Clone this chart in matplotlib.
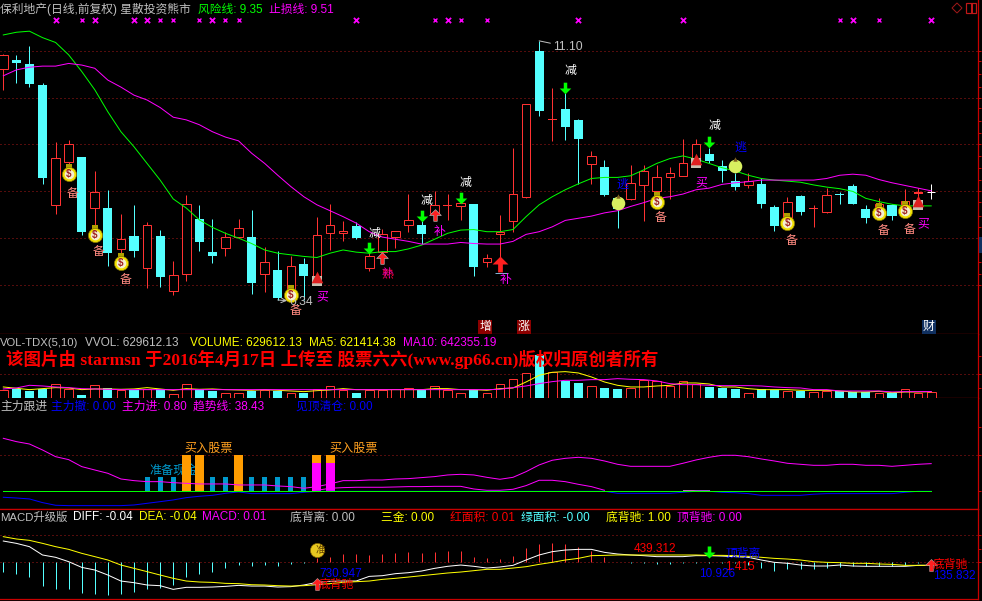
import matplotlib
matplotlib.use("Agg")
import matplotlib.pyplot as plt
from matplotlib.path import Path
from matplotlib.patches import Rectangle, Polygon
import numpy as np

plt.rcParams['font.family'] = ['Liberation Sans', 'Noto Sans CJK SC', 'DejaVu Sans']

# ---------- price series ----------
opens = [10.57,10.74,10.67,10.28,8.04,8.85,8.94,8.00,7.99,7.22,7.47,6.87,7.47,6.45,6.76,7.79,7.17,7.24,7.46,7.45,6.76,6.84,6.47,6.95,6.71,7.53,7.52,7.66,6.88,7.18,7.46,7.68,7.68,7.89,8.02,8.02,8.07,6.99,7.50,7.74,8.20,10.91,9.62,9.83,9.63,8.80,8.75,8.17,8.15,8.41,8.31,8.56,8.59,8.93,9.00,8.77,8.49,8.41,8.44,8.01,7.77,8.21,7.97,7.92,8.25,8.40,7.97,7.92,8.05,7.99,8.26,8.29]
closes = [10.83,10.68,10.30,8.54,8.93,9.19,7.55,8.28,7.16,7.41,7.20,7.67,6.71,6.74,8.06,7.35,7.10,7.45,7.61,6.60,6.98,6.32,6.91,6.73,7.48,7.67,7.56,7.43,7.10,7.50,7.56,7.76,7.51,8.04,8.03,8.08,6.90,7.07,7.54,8.26,9.92,9.80,9.64,9.50,9.28,8.95,8.24,7.97,8.45,8.67,8.56,8.64,8.82,9.19,8.87,8.68,8.38,8.49,8.07,7.66,8.10,7.92,7.99,8.23,8.23,8.07,7.81,8.06,7.84,8.12,8.28,8.29]
highs = [10.86,10.83,11.00,10.31,9.22,9.26,8.94,8.68,8.33,7.88,8.05,7.73,7.58,7.01,8.23,8.05,7.79,7.54,7.79,7.95,7.26,7.19,7.10,7.06,7.82,8.07,7.75,7.73,7.21,7.60,7.56,8.25,7.83,8.30,8.26,8.23,8.07,7.14,7.86,9.10,9.92,11.10,10.22,10.31,9.65,9.05,8.88,8.20,8.79,8.79,8.79,8.75,9.27,9.27,9.10,8.88,8.65,8.65,8.54,8.05,8.20,8.23,8.05,8.37,8.28,8.44,8.05,8.18,8.07,8.34,8.36,8.44]
lows = [10.19,10.32,10.24,8.44,7.87,8.73,7.48,7.52,6.92,7.02,7.08,6.51,6.53,6.38,6.64,7.20,6.96,7.09,7.43,6.40,6.42,6.28,6.34,6.28,6.59,7.21,7.37,7.41,6.81,6.99,7.25,7.55,7.32,7.77,7.77,7.76,6.73,6.90,6.96,7.55,8.17,9.71,9.24,9.26,8.43,8.44,8.22,7.62,8.14,7.74,8.20,8.16,8.59,8.76,8.82,8.47,8.33,8.36,7.99,7.56,7.71,7.86,7.64,7.90,8.07,8.07,7.71,7.89,7.77,7.89,8.08,8.16]
risk_line = [11.21,11.26,11.28,11.16,11.07,10.84,10.53,10.19,9.78,9.41,9.13,8.82,8.51,8.16,7.99,7.77,7.63,7.52,7.43,7.33,7.21,7.15,7.12,7.09,7.07,7.15,7.21,7.17,7.15,7.18,7.18,7.23,7.30,7.41,7.52,7.58,7.59,7.55,7.55,7.59,7.83,8.05,8.20,8.33,8.44,8.54,8.56,8.56,8.59,8.70,8.82,8.91,8.96,8.90,8.82,8.74,8.68,8.60,8.54,8.51,8.49,8.47,8.42,8.38,8.35,8.30,8.17,8.11,8.06,8.03,8.03,8.03]
stop_line = [10.45,10.56,10.61,10.63,10.63,10.68,10.65,10.59,10.37,10.24,10.09,10.00,9.86,9.68,9.63,9.54,9.41,9.31,9.24,9.01,8.82,8.60,8.39,8.20,8.05,7.94,7.83,7.71,7.55,7.45,7.41,7.37,7.32,7.32,7.32,7.35,7.33,7.32,7.32,7.37,7.50,7.55,7.64,7.76,7.80,7.84,7.90,7.94,8.02,8.09,8.17,8.20,8.25,8.33,8.36,8.43,8.46,8.48,8.51,8.51,8.51,8.51,8.51,8.54,8.60,8.62,8.60,8.52,8.46,8.41,8.36,8.31]
price_grid = [10.92,10.04,9.18,8.30,7.43,6.55]
price_ticks = [10.92,10.73,10.48,10.25,10.04,9.85,9.60,9.38,9.18,8.96,8.73,8.51,8.30,8.10,7.85,7.63,7.43,6.98,6.76,6.55]

# signals: candle index and price level
x_big = [4,7,10,11,16,27,34,44,52,65,71]
x_small = [6,12,13,15,17,18,33,35,37,64,67]
x_level = 11.48
bag_i = [5,7,9,22,50,60,67,69]
bag_p = [8.62,7.48,6.96,6.37,8.11,7.72,7.89,7.94]
bei_p = [8.25,7.18,6.65,6.08,7.80,7.38,7.56,7.59]
apple_i = [47,56]
apple_p = [8.09,8.78]
house_i = [24,53,70]
house_p = [6.66,8.85,8.08]
buy_i = [24.4,53.4,70.4]
buy_p = [6.33,8.45,7.69]
cut_i = [28,32,35,43,54]
cut_p = [7.50,8.12,8.46,10.54,9.52]
dn_i = [28,32,35,43,54]
dn_p = [7.24,7.84,8.17,10.23,9.21]
up_i = [29,33,38]
up_p = [7.07,7.86,6.95]
add_i = [33,38]
add_p = [7.55,6.65]
mix_i = [29]
mix_p = [6.76]
esc_i = [47.4,56.4]
esc_p = [8.42,9.11]

# ---------- volume series (thousands) ----------
volume = [756,850,662,913,1386,913,283,1291,1008,756,819,913,882,441,1386,850,693,535,535,693,756,662,535,504,913,1197,756,535,756,756,913,1008,756,1197,756,535,756,535,1386,1858,2425,4126,2520,1638,1417,1197,945,850,1008,1764,1638,1134,1669,1386,1039,945,850,535,913,787,724,693,598,724,693,630,598,535,504,913,535,630]
vol_ma5 = [1071,945,819,913,1008,976,819,882,882,850,882,1008,882,756,913,850,882,819,787,756,819,756,693,630,724,787,913,819,819,819,819,819,819,913,913,819,819,756,913,976,1543,2173,2457,2520,2394,2016,1543,1228,1071,1071,1165,1228,1449,1449,1354,1071,1071,913,819,819,819,756,756,756,693,598,598,661,535,598,598,621]
vol_ma10 = [882,976,1228,1165,1071,1008,913,882,850,819,819,819,819,819,819,819,819,819,819,819,819,819,819,819,819,819,819,819,819,819,819,819,819,819,819,819,819,819,850,1008,1165,1386,1575,1701,1701,1764,1764,1858,1795,1764,1638,1386,1291,1291,1228,1197,1197,1197,1165,1071,1008,976,819,819,693,693,693,693,598,630,630,642]
vol_grid = [2331]

# ---------- trend panel ----------
trend = [73.6,69.0,65.7,57.4,48.1,44.0,34.3,29.6,25.0,17.1,14.8,13.4,13.4,12.0,11.1,10.2,10.2,10.2,8.8,8.8,8.8,7.4,6.5,4.2,6.5,10.2,14.8,14.8,15.7,15.7,17.1,17.6,19.0,20.4,22.7,23.6,22.7,19.4,16.7,19.4,27.3,36.6,43.1,45.8,47.2,45.8,42.1,37.5,34.7,34.7,34.7,34.7,38.9,43.5,47.2,50,50,48.1,44.9,42.1,38.9,37.5,36.1,36.1,37.5,37.5,36.1,36.1,34.7,36.1,37.5,38.43]
main_in_i = [24,25,26,27,28,29,30,31,32,33,34,35,36,37,38,39,40,41,42,43,44,45,46]
main_in = [1.4,4.2,5.1,5.6,5.6,5.6,6.0,6.5,6.5,6.9,6.9,6.9,3.2,1.4,1.4,2.8,7.9,15.3,15.3,13.4,9.7,6.5,1.4]
main_in2_i = [52,53,54]
main_in2 = [1.4,1.4,1.4]
main_out = [-8.3,-9.3,-10.6,-15.7,-19.4,-19.9,-19.9,-19.9,-19.9,-19.9,-19.0,-16.7,-14.4,-12.0,-8.8,-6.9,-5.6,-2.8,-0.9,-3.2,-3.2,-3.2,-3.2,-1.4,0,0,0,0,0,0,0,0,0,0,0,0,0,0,0,0,0,0,0,0,0,0,0,-2.8,-2.8,-2.8,-2.8,-2.8,-1.4,0,0,-1.4,-2.0,-3.2,-5.6,-5.6,-5.6,-5.6,-4.0,-3.2,-3.2,-3.2,-3.2,-3.2,-3.2,-1.4,0,0]
zero_line = [0.0]*72
cash_i = [11,12,13,16,17,19,20,21,22,23]
cash_v = [20]*10
buy_bar_i = [14,15,18,24,25]
buy_bar_v = [50]*5
main_bar_i = [24,25]
main_bar_v = [40]*2
trend_grid = [50]

# ---------- MACD panel ----------
diff = [0.284,0.253,0.209,0.098,0.067,0.009,-0.067,-0.102,-0.169,-0.249,-0.271,-0.302,-0.311,-0.36,-0.333,-0.333,-0.329,-0.32,-0.307,-0.316,-0.316,-0.329,-0.324,-0.302,-0.267,-0.253,-0.249,-0.249,-0.187,-0.178,-0.151,-0.138,-0.116,-0.08,-0.053,-0.036,-0.053,-0.076,-0.062,-0.04,0.031,0.098,0.142,0.164,0.173,0.173,0.133,0.111,0.098,0.089,0.076,0.076,0.076,0.089,0.089,0.084,0.076,0.067,0.031,0,-0.013,-0.036,-0.049,-0.049,-0.036,-0.049,-0.053,-0.053,-0.053,-0.053,-0.04,-0.04]
dea = [0.342,0.311,0.293,0.253,0.209,0.173,0.12,0.076,0.031,-0.036,-0.08,-0.124,-0.169,-0.213,-0.249,-0.262,-0.267,-0.28,-0.284,-0.298,-0.302,-0.311,-0.316,-0.311,-0.298,-0.284,-0.267,-0.258,-0.249,-0.227,-0.213,-0.196,-0.178,-0.16,-0.142,-0.129,-0.111,-0.093,-0.093,-0.076,-0.058,-0.027,0,0.031,0.053,0.089,0.093,0.098,0.098,0.098,0.098,0.098,0.098,0.098,0.093,0.093,0.089,0.08,0.067,0.053,0.044,0.031,0.009,0,-0.004,-0.013,-0.013,-0.022,-0.027,-0.04,-0.04,-0.04]
macd = [-0.124,-0.156,-0.191,-0.316,-0.356,-0.356,-0.413,-0.422,-0.436,-0.422,-0.391,-0.356,-0.338,-0.302,-0.191,-0.156,-0.124,-0.071,-0.036,-0.049,-0.036,-0.049,-0.022,-0.013,0.053,0.076,0.111,0.111,0.098,0.111,0.129,0.138,0.129,0.142,0.151,0.151,0.076,0.053,0.044,0.089,0.196,0.244,0.262,0.244,0.209,0.156,0.076,0.009,-0.009,-0.009,-0.022,-0.022,-0.004,-0.004,-0.004,-0.004,-0.009,-0.036,-0.071,-0.111,-0.093,-0.093,-0.093,-0.071,-0.058,-0.049,-0.049,-0.049,-0.049,-0.036,-0.009,0.01]
macd_grid = [0.36,0.0]

RED = '#ff3232'; CYAN = '#54ffff'; GRID = '#a81818'; LINE = '#c80000'
GREEN = '#00ff00'; MAG = '#ff00ff'; YEL = '#ffff00'; GRAY = '#c0c0c0'; BLUE = '#0000ff'
W, H = 982, 601
fig = plt.figure(figsize=(W/100, H/100), dpi=100, facecolor='black')
idx = np.arange(72)
XL = (-0.2525, 74.58)
px = 0.72     # one pixel
curve = 0.72  # curves

def panel(top, bottom, ylim):
    ax = fig.add_axes([0, 1-bottom/H, 978/W, (bottom-top)/H], facecolor='black')
    ax.set_xlim(*XL); ax.set_ylim(*ylim)
    for s in ['top','left']:
        ax.spines[s].set_visible(False)
    for s in ['bottom','right']:
        ax.spines[s].set_color(LINE); ax.spines[s].set_linewidth(0.9)
    ax.set_xticks([])
    ax.yaxis.tick_right()
    ax.tick_params(axis='y', colors=LINE, length=2.4, width=px, labelright=False)
    return ax

def grid(ax, vals):
    for v in vals:
        ax.plot(XL, [v, v], color=GRID, lw=px, ls=(0, (1, 3)), zorder=1)

def label(x, y, s, color=GRAY, size=8.5, **kw):
    fig.text(x/W, 1-y/H, s, color=color, fontsize=size, va='center', ha=kw.pop('ha','left'), **kw)

def tag(ax, xs, ys, s, color, size=8.6, dx=0.0, **kw):
    for x, y in zip(xs, ys):
        ax.text(x+dx, y, s, color=color, fontsize=size, ha='center', va='center', zorder=8, **kw)

def arrow(direction):
    v = [(-.3,-1),(.3,-1),(.3,0),(1,0),(0,1),(-1,0),(-.3,0),(-.3,-1)]
    if direction == 'down':
        v = [(a,-b) for a,b in v]
    return Path(v, closed=True)

# ===== main panel =====
ax = panel(0, 334.3, (11.86-0.0062*1003, 11.86))
grid(ax, price_grid)
ax.set_yticks(price_ticks)
for i, (o, c, h, l) in enumerate(zip(opens, closes, highs, lows)):
    if i == 71:
        continue
    col = RED if c >= o else CYAN
    ax.vlines(i, l, h, color=col, lw=px, zorder=3)
    if abs(c-o) < 0.035:
        ax.bar(i, max(abs(c-o), 0.02), bottom=min(o, c), width=0.69, color=col, lw=0, zorder=4)
    elif c >= o:
        ax.bar(i, c-o, bottom=o, width=0.66, facecolor='black', edgecolor=col, lw=px, zorder=4)
    else:
        ax.bar(i, o-c, bottom=c, width=0.69, color=col, lw=0, zorder=4)
ax.vlines(71, lows[71], highs[71], color='white', lw=px, zorder=5)
ax.hlines(closes[71], 70.7, 71.3, color='white', lw=px, zorder=5)
ax.plot(idx, risk_line, color=GREEN, lw=curve, zorder=5)
ax.plot(idx, stop_line, color=MAG, lw=curve, zorder=5)
ax.scatter(x_big, [x_level]*len(x_big), marker='x', s=14, color=MAG, lw=1.3, zorder=6)
ax.scatter(x_small, [x_level]*len(x_small), marker='x', s=8, color=MAG, lw=1.0, zorder=6)

# money bags
ax.scatter(bag_i, [p+0.13 for p in bag_p], marker='s', s=14, color='#b0a000', lw=0, zorder=6)
ax.scatter(bag_i, bag_p, s=105, color='#f0e000', edgecolor='#807000', lw=0.5, zorder=6)
ax.scatter(bag_i, bag_p, s=48, color='#f5efd0', lw=0, zorder=7)
tag(ax, bag_i, bag_p, '$', '#a02020', size=7, weight='bold')
tag(ax, bag_i, bei_p, '备', '#ff8a80', dx=0.33)
# apples
ax.scatter(apple_i, apple_p, s=95, color='#d8f060', lw=0, zorder=7)
ax.scatter(apple_i, [p+0.13 for p in apple_p], marker='^', s=10, color='#806020', lw=0, zorder=7)
# houses
ax.scatter(house_i, [p-0.03 for p in house_p], marker='s', s=55, color='#c8c0b0', lw=0, zorder=7)
ax.scatter(house_i, [p+0.05 for p in house_p], marker='^', s=70, color='#e02020', lw=0, zorder=8)
tag(ax, buy_i, buy_p, '买', MAG)
tag(ax, cut_i, cut_p, '减', 'white', dx=0.4)
ax.scatter(dn_i, dn_p, marker=arrow('down'), s=70, color=GREEN, lw=0, zorder=8)
ax.scatter(up_i[:2], up_p[:2], marker=arrow('up'), s=70, color='#ff2020', edgecolor='#b0b0b0', lw=0.5, zorder=8)
ax.scatter(up_i[2:], up_p[2:], marker=arrow('up'), s=130, color='#ff2020', lw=0, zorder=8)
tag(ax, add_i, add_p, '补', MAG, dx=0.4)
tag(ax, mix_i, mix_p, '熟', '#ff0040', dx=0.4)
tag(ax, mix_i, mix_p, '补', MAG, dx=0.4, alpha=0.55)
tag(ax, esc_i, esc_p, '逃', BLUE)
ax.hlines(6.78, 37.6, 38.6, color='#80b0d0', lw=px, zorder=7)
ax.annotate('11.10', xy=(41, 11.10), xytext=(14, -6), textcoords='offset pixels', color=GRAY, fontsize=8.7,
            va='center', arrowprops=dict(arrowstyle='-', color=GRAY, lw=px, shrinkA=0, shrinkB=0), zorder=8)
ax.annotate('6.34', xy=(21, 6.28), xytext=(12, -2), textcoords='offset pixels', color=GRAY, fontsize=8.7,
            va='center', arrowprops=dict(arrowstyle='<-', color=GRAY, lw=px, shrinkA=0, shrinkB=0), zorder=6)

# ===== volume panel =====
ax2 = panel(334.3, 398.3, (0, 6048))
grid(ax2, vol_grid)
ax2.set_yticks([2331, 1000, 4000])
for i, v in enumerate(volume):
    if closes[i] >= opens[i]:
        ax2.bar(i, v, width=0.66, facecolor='black', edgecolor=RED, lw=px, zorder=3)
    else:
        ax2.bar(i, v, width=0.69, color=CYAN, lw=0, zorder=3)
ax2.plot(idx, vol_ma5, color=YEL, lw=curve, zorder=4)
ax2.plot(idx, vol_ma10, color=MAG, lw=curve, zorder=5)

# ===== trend panel =====
tscale = 2.16
ax3 = panel(398.3, 509.3, (-(523-469)/tscale, (469-190)/tscale))
grid(ax3, trend_grid)
ax3.set_yticks([50, 0, 90])
ax3.text(13, 20.2, '准备现金', color='#0099cc', fontsize=8.7, ha='center', va='bottom', zorder=2)
ax3.text(15.7, 51, '买入股票', color='#ffa020', fontsize=8.7, ha='center', va='bottom', zorder=6)
ax3.text(26.8, 51, '买入股票', color='#ffa020', fontsize=8.7, ha='center', va='bottom', zorder=6)
ax3.bar(cash_i, cash_v, width=0.38, color='#0099cc', lw=0, zorder=3)
ax3.bar(buy_bar_i, buy_bar_v, width=0.69, color='#ff9c00', lw=0, zorder=3)
ax3.bar(main_bar_i, main_bar_v, width=0.69, color=MAG, lw=0, zorder=4)
ax3.plot(idx, trend, color=MAG, lw=curve, zorder=5)
ax3.plot(main_in_i, main_in, color=MAG, lw=curve, zorder=5)
ax3.plot(main_in2_i, main_in2, color='#c060c0', lw=curve, zorder=5)
ax3.plot(idx, main_out, color=BLUE, lw=curve, zorder=5)
ax3.plot(idx, zero_line, color=GREEN, lw=px, snap=True, zorder=6)

# ===== MACD panel =====
ax4 = panel(509.3, 598.7, ((172-281)/225, (172-13)/225))
ax4.spines['top'].set_visible(True); ax4.spines['top'].set_color(LINE); ax4.spines['top'].set_linewidth(0.9)
grid(ax4, macd_grid)
ax4.set_yticks([0.36, 0.18, 0])
for i, v in enumerate(macd):
    ax4.vlines(i, 0, v, color=RED if v > 0 else CYAN, lw=px, zorder=3)
ax4.plot(idx, diff, color='white', lw=curve, zorder=4)
ax4.plot(idx, dea, color=YEL, lw=curve, zorder=5)
ax4.scatter([24], [0.16], s=105, color='#e8c820', edgecolor='#806000', lw=0.5, zorder=6)
ax4.text(24.3, 0.16, '准', color='#604000', fontsize=7, ha='center', va='center', zorder=7)
ax4.scatter([24, 71], [-0.29, -0.04], marker=arrow('up'), s=75, color='#ff2020', edgecolor='#c0a0a0', lw=0.4, zorder=7)
ax4.scatter([54], [0.135], marker=arrow('down'), s=75, color=GREEN, lw=0, zorder=7)

# ===== texts =====
label(0, 9.5, '保利地产(日线,前复权) 星散投资熊市')
label(198, 9.5, '风险线: 9.35', GREEN)
label(269, 9.5, '止损线: 9.51', MAG)
label(0, 342.5, 'VOL-TDX(5,10)', size=8.1)
label(85, 342.5, 'VVOL: 629612.13')
label(190, 342.5, 'VOLUME: 629612.13', YEL)
label(309, 342.5, 'MA5: 621414.38', YEL)
label(403, 342.5, 'MA10: 642355.19', MAG)
fig.text(6/W, 1-359/H, '该图片由 starmsn 于2016年4月17日 上传至 股票六六(www.gp66.cn)版权归原创者所有', color='#ff0000',
         fontsize=12.6, weight='bold', va='center', family=['Liberation Serif', 'Noto Sans CJK SC'], zorder=10)
label(0, 407, '主力跟进')
label(51, 407, '主力撤: 0.00', BLUE)
label(122, 407, '主力进: 0.80', MAG)
label(193, 407, '趋势线: 38.43', MAG)
label(296, 407, '见顶清仓: 0.00', BLUE)
label(0, 517.5, 'MACD升级版', size=8.2)
label(73, 517.5, 'DIFF: -0.04', 'white')
label(139, 517.5, 'DEA: -0.04', YEL)
label(202, 517.5, 'MACD: 0.01', MAG)
label(290, 517.5, '底背离: 0.00')
label(381, 517.5, '三金: 0.00', YEL)
label(450, 517.5, '红面积: 0.01', '#ff0000')
label(521, 517.5, '绿面积: -0.00', CYAN)
label(606, 517.5, '底背驰: 1.00', YEL)
label(677, 517.5, '顶背驰: 0.00', MAG)
label(319, 574, '730.947', BLUE, zorder=10)
label(319, 585, '底背驰', '#ff0000', zorder=10)
label(634, 549, '439.312', '#ff0000', zorder=10)
label(725, 554, '顶背离', BLUE, zorder=10)
label(725, 567, '1.415', '#ff0000', zorder=10)
label(699, 574, '10.926', BLUE, zorder=10)
label(933, 565, '底背驰', '#ff0000', zorder=10)
label(933, 576, '135.832', BLUE, zorder=10)
for x, s, c in [(485, '增', '#8b0000'), (524, '涨', '#8b0000'), (929, '财', '#103060')]:
    fig.text(x/W, 1-326.7/H, s, color='white', fontsize=8.6, ha='center', va='center', zorder=10,
             bbox=dict(boxstyle='square,pad=0.08', facecolor=c, edgecolor='none'))

# window buttons and side marker
fig.add_artist(Polygon([(957/W, 1-3/H), (962/W, 1-8/H), (957/W, 1-13/H), (952/W, 1-8/H)], closed=True, fill=False, edgecolor='#a01818', lw=px))
fig.add_artist(Rectangle((966/W, 1-12.5/H), 9.5/W, 9.5/H, fill=False, edgecolor='#c01818', lw=px*1.2))
fig.add_artist(Rectangle((971/W, 1-12.5/H), 0.5/W, 9.5/H, fill=False, edgecolor='#c01818', lw=px))
fig.add_artist(Rectangle((979/W, 1-253/H), 3/W, 16/H, facecolor='#103060', edgecolor='none'))

fig.savefig('out.png', dpi=100, facecolor='black')
